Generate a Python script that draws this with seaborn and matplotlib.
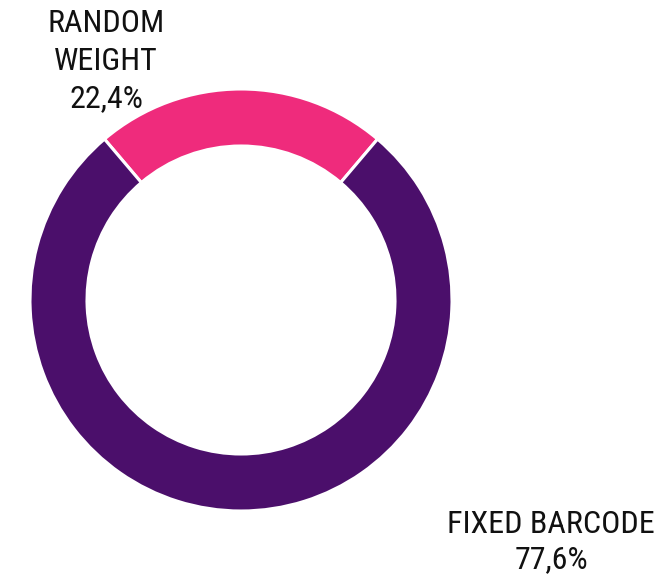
import numpy as np
import pandas as pd
import seaborn as sns
import matplotlib.pyplot as plt

labels = ["RANDOM\nWEIGHT", "FIXED BARCODE"]
shares = [22.4, 77.6]
colors = ["#EF2B7C", "#4B0F6B"]


def donut(df):
    fig = plt.figure(figsize=(6.72, 5.77), dpi=100)
    ax = fig.add_axes([0, 0, 1, 1])
    start = 90 - df["share"].iloc[0] / 100 * 360 / 2
    ax.pie(
        df["share"],
        colors=df["color"],
        startangle=start,
        center=(241, 277),
        radius=211,
        wedgeprops=dict(width=57, edgecolor="white", linewidth=2.2),
    )
    ax.set_xlim(0, 672)
    ax.set_ylim(0, 577)
    ax.set_aspect("equal")
    ax.axis("off")

    fam = ["Roboto Condensed", "Liberation Sans Narrow", "Roboto", "DejaVu Sans"]
    txt = [f"{l}\n{s:.1f}%".replace(".", ",") for l, s in zip(df["label"], df["share"])]
    ax.text(106, 577 - 61, txt[0], ha="center", va="center", fontsize=23,
            family=fam, linespacing=1.36, color="#111111")
    ax.text(551, 577 - 542, txt[1], ha="center", va="center", fontsize=23,
            family=fam, linespacing=1.3, color="#111111")
    fig.savefig("out.png", dpi=100)


def main():
    df = pd.DataFrame({"label": labels, "share": shares, "color": colors})
    donut(df)


if __name__ == "__main__":
    sns.set_theme(style="white")
    main()
